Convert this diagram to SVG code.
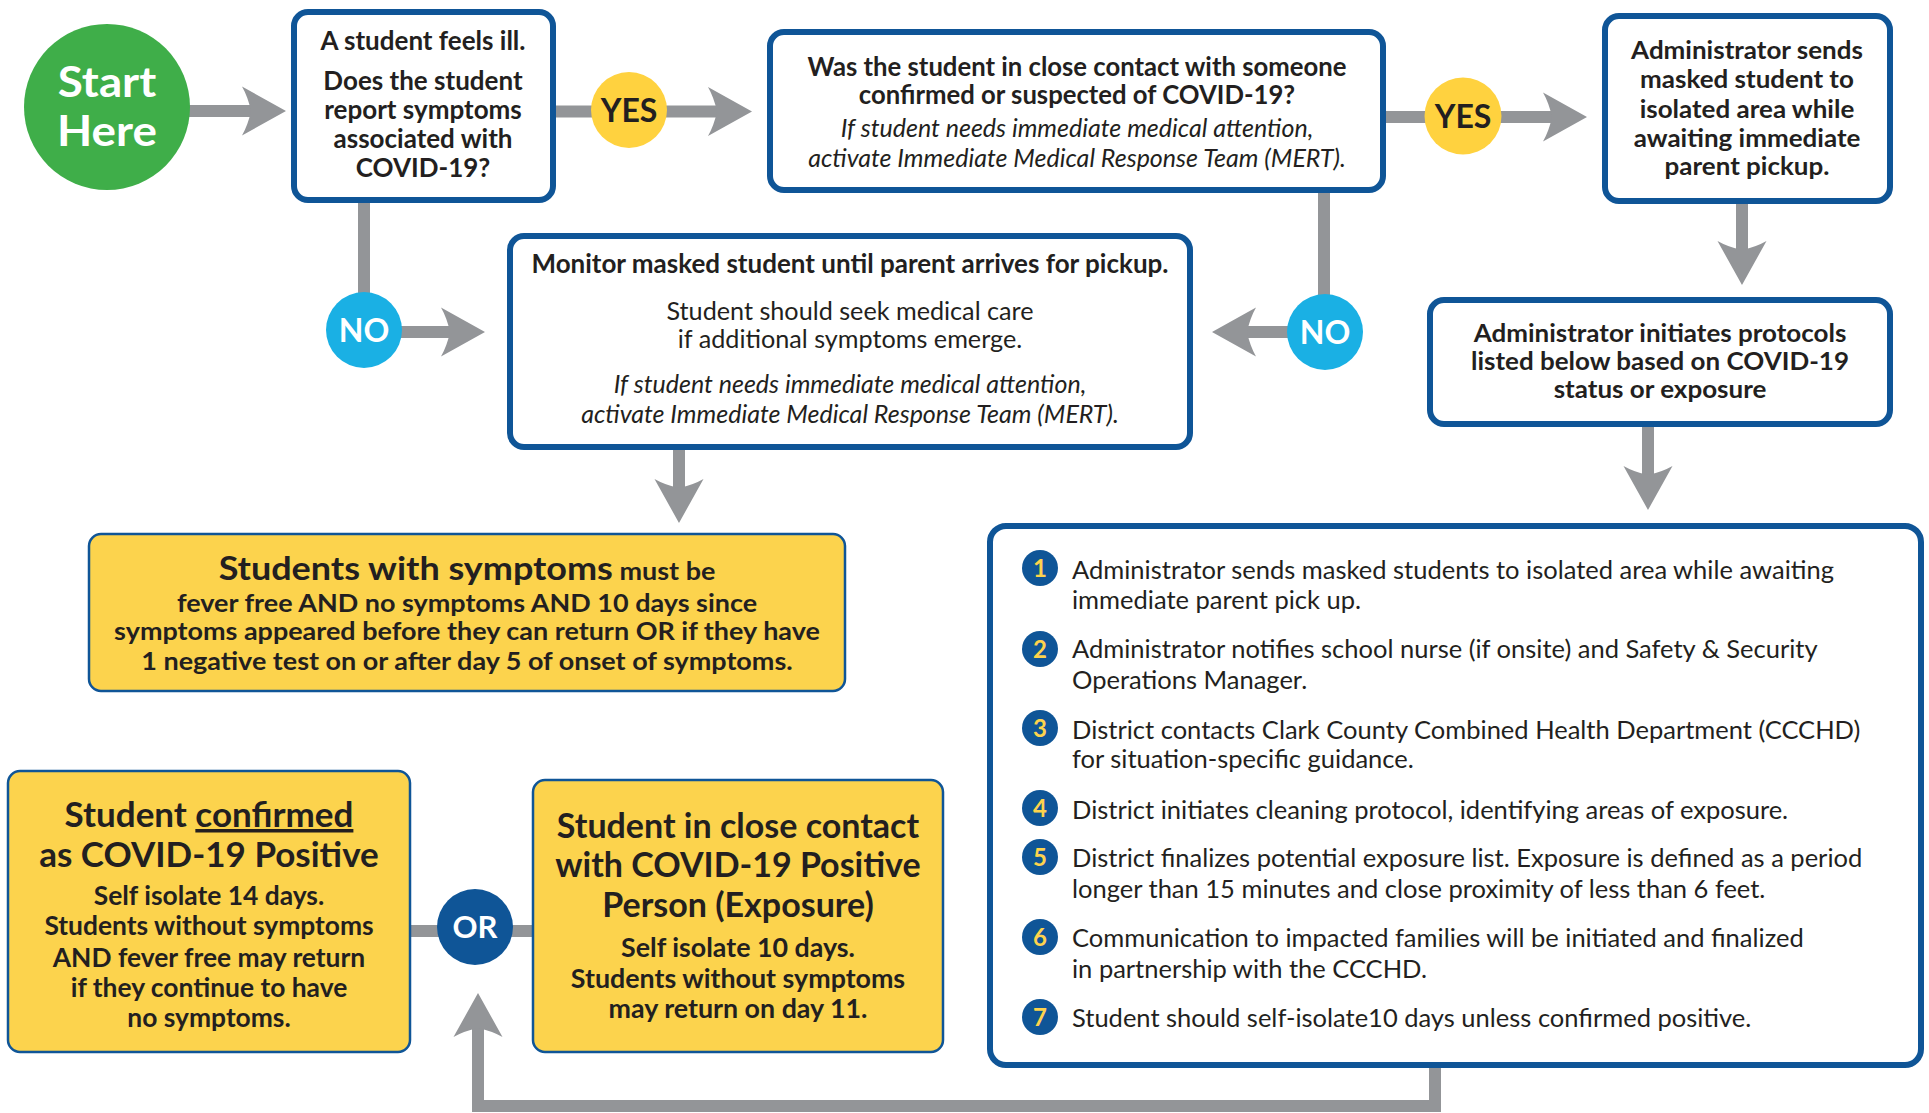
<svg xmlns="http://www.w3.org/2000/svg" width="1929" height="1113" viewBox="0 0 1929 1113">
<style>
text{font-family:Lato,"Noto Sans","Liberation Sans",sans-serif;fill:#231f20}
.b{font-weight:700}
.c{text-anchor:middle}
.i{font-style:italic;font-weight:400}
.box{fill:#fff;stroke:#0f5597;stroke-width:6}
.ybox{fill:#fcd34d;stroke:#0f5597;stroke-width:2.5}
.ln{fill:none;stroke:#939598;stroke-width:12}
.wt{fill:#fff;font-weight:700;text-anchor:middle}
.num{fill:#0f5597}
.nt{fill:#fdd34d;font-weight:700;text-anchor:middle;font-size:24px}
.li{font-size:25.5px}
</style>
<defs>
<marker id="ah" markerUnits="userSpaceOnUse" markerWidth="46" markerHeight="50" viewBox="0 0 46 50" refX="10" refY="25" orient="auto">
<path d="M44,25 L0,0.5 Q6,11 9,25 Q6,39 0,49.5 Z" fill="#939598"/>
</marker>
</defs>
<g id="connectors">
<path class="ln" d="M189,111 H252" marker-end="url(#ah)"/>
<path class="ln" d="M556,111.5 H718" marker-end="url(#ah)"/>
<path class="ln" d="M1386,117 H1553" marker-end="url(#ah)"/>
<path class="ln" d="M364,203 V300"/>
<path class="ln" d="M400,332 H451" marker-end="url(#ah)"/>
<path class="ln" d="M1324,193 V300"/>
<path class="ln" d="M1290,332 H1246" marker-end="url(#ah)"/>
<path class="ln" d="M1742,204 V251" marker-end="url(#ah)"/>
<path class="ln" d="M1648,427 V476" marker-end="url(#ah)"/>
<path class="ln" d="M679,450 V489" marker-end="url(#ah)"/>
<path class="ln" d="M411,931 H532"/>
<path class="ln" d="M1435,1068 V1106 H478 V1027" marker-end="url(#ah)"/>
</g>
<g id="start">
<circle cx="107" cy="107" r="83" fill="#3fae49"/>
<g transform="translate(107,0) scale(1.09,1) translate(-107,0)">
<text class="wt" font-size="42" x="107" y="97">Start</text>
<text class="wt" font-size="42" x="107" y="146">Here</text>
</g>
</g>
<g id="q1">
<rect class="box" x="294" y="12" width="259" height="188" rx="14"/>
<text class="b c" font-size="26" x="423" y="50">A student feels ill.</text>
<text class="b c" font-size="26" x="423" y="90">Does the student</text>
<text class="b c" font-size="26" x="423" y="119">report symptoms</text>
<text class="b c" font-size="26" x="423" y="148">associated with</text>
<text class="b c" font-size="26" x="423" y="177">COVID-19?</text>
</g>
<g id="yes1">
<circle cx="629" cy="110" r="38" fill="#ffd23f"/>
<text class="b c" font-size="32" x="629" y="122">YES</text>
</g>
<g id="q2">
<rect class="box" x="770" y="32" width="613" height="158" rx="14"/>
<text class="b c" font-size="25.7" x="1077" y="76">Was the student in close contact with someone</text>
<text class="b c" font-size="25.7" x="1077" y="104">confirmed or suspected of COVID-19?</text>
<text class="i c" font-size="25" x="1077" y="137">If student needs immediate medical attention,</text>
<text class="i c" font-size="25" x="1077" y="167">activate Immediate Medical Response Team (MERT).</text>
</g>
<g id="yes2">
<circle cx="1463" cy="116" r="38.5" fill="#ffd23f"/>
<text class="b c" font-size="32" x="1463" y="128">YES</text>
</g>
<g id="isolate">
<rect class="box" x="1605" y="16" width="285" height="185" rx="14"/>
<g transform="translate(1747,0) scale(1.083,1) translate(-1747,0)">
<text class="b c" font-size="24" x="1747" y="59">Administrator sends</text>
<text class="b c" font-size="24" x="1747" y="88">masked student to</text>
<text class="b c" font-size="24" x="1747" y="118">isolated area while</text>
<text class="b c" font-size="24" x="1747" y="147">awaiting immediate</text>
<text class="b c" font-size="24" x="1747" y="175">parent pickup.</text>
</g>
</g>
<g id="no1">
<circle cx="364" cy="330" r="38" fill="#1ab0e4"/>
<text class="wt" font-size="32" x="364" y="342">NO</text>
</g>
<g id="no2">
<circle cx="1325" cy="332" r="38" fill="#1ab0e4"/>
<text class="wt" font-size="32" x="1325" y="344">NO</text>
</g>
<g id="monitor">
<rect class="box" x="510" y="236" width="680" height="211" rx="14"/>
<text class="b c" font-size="26" x="850" y="273">Monitor masked student until parent arrives for pickup.</text>
<text class="c" font-size="25.2" x="850" y="320">Student should seek medical care</text>
<text class="c" font-size="25.2" x="850" y="348">if additional symptoms emerge.</text>
<text class="i c" font-size="25" x="850" y="393">If student needs immediate medical attention,</text>
<text class="i c" font-size="25" x="850" y="423">activate Immediate Medical Response Team (MERT).</text>
</g>
<g id="protocols">
<rect class="box" x="1430" y="300" width="460" height="124" rx="14"/>
<g transform="translate(1660,0) scale(1.083,1) translate(-1660,0)">
<text class="b c" font-size="24" x="1660" y="342">Administrator initiates protocols</text>
<text class="b c" font-size="24" x="1660" y="370">listed below based on COVID-19</text>
<text class="b c" font-size="24" x="1660" y="398">status or exposure</text>
</g>
</g>
<g id="symptoms">
<rect class="ybox" x="89" y="534" width="756" height="157" rx="12"/>
<g transform="translate(467,0) scale(1.1,1) translate(-467,0)">
<text class="b c" x="467" y="580"><tspan font-size="32.7">Students with symptoms</tspan><tspan font-size="24.5"> must be</tspan></text>
<text class="b c" font-size="24.5" x="467" y="612">fever free AND no symptoms AND 10 days since</text>
<text class="b c" font-size="24.5" x="467" y="640">symptoms appeared before they can return OR if they have</text>
<text class="b c" font-size="24.5" x="467" y="670">1 negative test on or after day 5 of onset of symptoms.</text>
</g>
</g>
<g id="list">
<rect class="box" x="990" y="526" width="931" height="539" rx="16"/>
<circle class="num" cx="1040" cy="568" r="18"/><text class="nt" x="1040" y="577">1</text>
<circle class="num" cx="1040" cy="649" r="18"/><text class="nt" x="1040" y="658">2</text>
<circle class="num" cx="1040" cy="728" r="18"/><text class="nt" x="1040" y="737">3</text>
<circle class="num" cx="1040" cy="808" r="18"/><text class="nt" x="1040" y="817">4</text>
<circle class="num" cx="1040" cy="857" r="18"/><text class="nt" x="1040" y="866">5</text>
<circle class="num" cx="1040" cy="937" r="18"/><text class="nt" x="1040" y="946">6</text>
<circle class="num" cx="1040" cy="1017" r="18"/><text class="nt" x="1040" y="1026">7</text>
<text class="li" x="1072" y="579">Administrator sends masked students to isolated area while awaiting</text>
<text class="li" x="1072" y="609">immediate parent pick up.</text>
<text class="li" x="1072" y="658">Administrator notifies school nurse (if onsite) and Safety &amp; Security</text>
<text class="li" x="1072" y="689">Operations Manager.</text>
<text class="li" x="1072" y="739">District contacts Clark County Combined Health Department (CCCHD)</text>
<text class="li" x="1072" y="768">for situation-specific guidance.</text>
<text class="li" x="1072" y="819">District initiates cleaning protocol, identifying areas of exposure.</text>
<text class="li" x="1072" y="867">District finalizes potential exposure list. Exposure is defined as a period</text>
<text class="li" x="1072" y="898">longer than 15 minutes and close proximity of less than 6 feet.</text>
<text class="li" x="1072" y="947">Communication to impacted families will be initiated and finalized</text>
<text class="li" x="1072" y="978">in partnership with the CCCHD.</text>
<text class="li" x="1072" y="1027">Student should self-isolate10 days unless confirmed positive.</text>
</g>
<g id="confirmed">
<rect class="ybox" x="8" y="771" width="402" height="281" rx="12"/>
<text class="b c" font-size="35" x="209" y="827">Student <tspan text-decoration="underline">confirmed</tspan></text>
<text class="b c" font-size="35" x="209" y="867">as COVID-19 Positive</text>
<text class="b c" font-size="26.4" x="209" y="905">Self isolate 14 days.</text>
<text class="b c" font-size="26.4" x="209" y="935">Students without symptoms</text>
<text class="b c" font-size="26.4" x="209" y="967">AND fever free may return</text>
<text class="b c" font-size="26.4" x="209" y="997">if they continue to have</text>
<text class="b c" font-size="26.4" x="209" y="1027">no symptoms.</text>
</g>
<g id="or">
<circle cx="475" cy="927" r="38" fill="#0f5597"/>
<text class="wt" font-size="31" x="475" y="938">OR</text>
</g>
<g id="contact">
<rect class="ybox" x="533" y="780" width="410" height="272" rx="12"/>
<text class="b c" font-size="34" x="738" y="838">Student in close contact</text>
<text class="b c" font-size="34" x="738" y="877">with COVID-19 Positive</text>
<text class="b c" font-size="34" x="738" y="917">Person (Exposure)</text>
<text class="b c" font-size="26.8" x="738" y="957">Self isolate 10 days.</text>
<text class="b c" font-size="26.8" x="738" y="988">Students without symptoms</text>
<text class="b c" font-size="26.8" x="738" y="1018">may return on day 11.</text>
</g>
</svg>
